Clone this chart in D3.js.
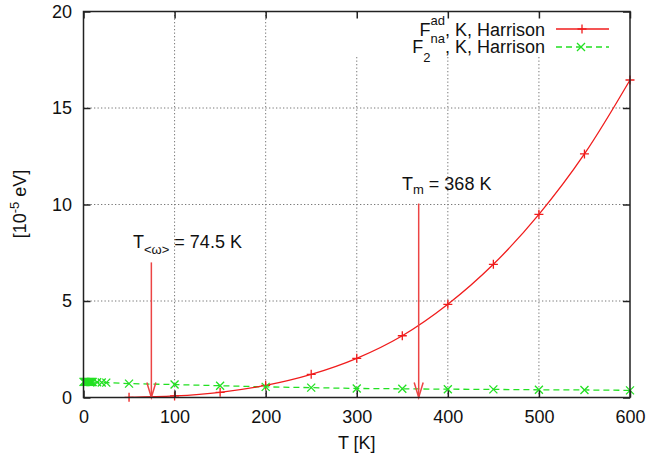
<!DOCTYPE html>
<html>
<head>
<meta charset="utf-8">
<script src="https://cdn.jsdelivr.net/npm/d3@7"></script>
<style>
  html, body { margin: 0; padding: 0; background: #fff; }
  svg { display: block; font-family: "Liberation Sans", Arial, Helvetica, sans-serif; }
</style>
</head>
<body>
<svg id="chart" width="647" height="459"></svg>
<script>
// ---- data ----
const redT = [50, 100, 150, 200, 250, 300, 350, 400, 450, 500, 550, 600];
const redF = [0.01, 0.08, 0.27, 0.63, 1.2, 2.03, 3.2, 4.83, 6.9, 9.49, 12.62, 16.45];
const greenT = [0, 1, 2, 3, 4, 5, 6, 7, 8, 9, 10, 15, 20, 25, 50, 100, 150, 200, 250, 300, 350, 400, 450, 500, 550, 600];
const greenF = [0.81, 0.81, 0.81, 0.81, 0.81, 0.81, 0.81, 0.80, 0.80, 0.80, 0.80, 0.79, 0.78, 0.77, 0.72, 0.67, 0.61, 0.55, 0.51, 0.47, 0.45, 0.43, 0.42, 0.40, 0.39, 0.37];
const xTicks = [0, 100, 200, 300, 400, 500, 600];
const yTicks = [0, 5, 10, 15, 20];
const xGrid = [100, 200, 300, 400, 500];
const yGrid = [5, 10, 15];
const arrowT = [74.5, 368];
const arrowTop = [7.0, 10.05];

// ---- layout ----
const svg = d3.select("#chart");
const x = d3.scaleLinear().domain([0, 600]).range([83.5, 630]);
const y = d3.scaleLinear().domain([0, 20]).range([397.5, 11.5]);
const FS = 18;
const red = "#f01c1c", green = "#22e022", arrowCol = "#ec4444";

// grid
const grid = svg.append("g").attr("stroke", "#777").attr("stroke-width", 1).attr("stroke-dasharray", "1.3,2.2");
grid.selectAll(".gx").data(xGrid).join("line")
  .attr("x1", d => x(d)).attr("x2", d => x(d)).attr("y1", y(20)).attr("y2", y(0));
grid.selectAll(".gy").data(yGrid).join("line")
  .attr("x1", x(0)).attr("x2", x(600)).attr("y1", d => y(d)).attr("y2", d => y(d));

// opaque key box
svg.append("rect").attr("x", 300).attr("y", 12.5).attr("width", 329).attr("height", 44).attr("fill", "#fff");

const plot = svg.append("g");

// green dashed line
plot.append("path")
  .datum(greenT.map((t, i) => [t, greenF[i]]))
  .attr("fill", "none").attr("stroke", green).attr("stroke-width", 1.3).attr("stroke-dasharray", "6,4")
  .attr("d", d3.line().x(d => x(d[0])).y(d => y(d[1])));

// red curve
plot.append("path")
  .datum(redT.map((t, i) => [t, redF[i]]))
  .attr("fill", "none").attr("stroke", red).attr("stroke-width", 1.3)
  .attr("d", d3.line().curve(d3.curveCatmullRom.alpha(0.5)).x(d => x(d[0])).y(d => y(d[1])));

// arrows
arrowT.forEach((t, i) => {
  const ax = x(t), y0 = y(arrowTop[i]), y1 = y(0);
  plot.append("line").attr("x1", ax).attr("x2", ax).attr("y1", y0).attr("y2", y1)
    .attr("stroke", arrowCol).attr("stroke-width", 1.5);
  plot.append("path").attr("d", `M${ax - 4.5},${y1 - 15}L${ax},${y1}L${ax + 4.5},${y1 - 15}`)
    .attr("fill", "none").attr("stroke", arrowCol).attr("stroke-width", 1.5);
});

// markers
const plusD = "M-4.5,0H4.5M0,-4.5V4.5";
const crossD = "M-4,-4L4,4M-4,4L4,-4";
plot.selectAll(".rm").data(redT.map((t, i) => [t, redF[i]])).join("path")
  .attr("transform", d => `translate(${x(d[0])},${y(d[1])})`)
  .attr("d", plusD).attr("stroke", red).attr("stroke-width", 1.3).attr("fill", "none");
plot.selectAll(".gm").data(greenT.map((t, i) => [t, greenF[i]])).join("path")
  .attr("transform", d => `translate(${x(d[0])},${y(d[1])})`)
  .attr("d", crossD).attr("stroke", green).attr("stroke-width", 1.3).attr("fill", "none");

// axes (ticks inward, mirrored)
function styleAxis(g) {
  g.select(".domain").remove();
  g.selectAll(".tick line").attr("stroke", "#222").attr("stroke-width", 1.5);
  g.selectAll(".tick text").attr("fill", "#111").style("font-size", FS + "px")
    .style("font-family", '"Liberation Sans", Arial, sans-serif');
}
svg.append("g").attr("transform", `translate(0,${y(0)})`)
  .call(d3.axisBottom(x).tickValues(xTicks).tickSize(-7).tickPadding(12.5).tickFormat(d3.format("d")))
  .call(styleAxis);
svg.append("g").attr("transform", `translate(0,${y(20)})`)
  .call(d3.axisTop(x).tickValues(xTicks).tickSize(-7).tickFormat(""))
  .call(styleAxis);
svg.append("g").attr("transform", `translate(${x(0)},0)`)
  .call(d3.axisLeft(y).tickValues(yTicks).tickSize(-7).tickPadding(11.5).tickFormat(d3.format("d")))
  .call(styleAxis);
svg.append("g").attr("transform", `translate(${x(600)},0)`)
  .call(d3.axisRight(y).tickValues(yTicks).tickSize(-7).tickFormat(""))
  .call(styleAxis);

// border
svg.append("rect").attr("x", x(0)).attr("y", y(20)).attr("width", x(600) - x(0)).attr("height", y(0) - y(20))
  .attr("fill", "none").attr("stroke", "#222").attr("stroke-width", 1.5);

// axis labels
svg.append("text").attr("x", (x(0) + x(600)) / 2).attr("y", 449).attr("text-anchor", "middle")
  .style("font-size", FS + "px").attr("fill", "#111").text("T [K]");

const yl = svg.append("text").attr("transform", "translate(25.5,204) rotate(-90)")
  .attr("text-anchor", "middle").style("font-size", FS + "px").attr("fill", "#111");
yl.append("tspan").text("[10");
yl.append("tspan").attr("dy", -7).style("font-size", "13px").text("-5");
yl.append("tspan").attr("dy", 7).text(" eV]");

// annotations
const a1 = svg.append("text").attr("x", 133).attr("y", 248).style("font-size", FS + "px").attr("fill", "#111");
a1.append("tspan").text("T");
a1.append("tspan").attr("dy", 6).style("font-size", "13px").text("<ω>");
a1.append("tspan").attr("dy", -6).text(" = 74.5 K");

const a2 = svg.append("text").attr("x", 402).attr("y", 189.5).style("font-size", FS + "px").attr("fill", "#111");
a2.append("tspan").text("T");
a2.append("tspan").attr("dy", 4.5).style("font-size", "13px").text("m");
a2.append("tspan").attr("dy", -4.5).text(" = 368 K");

// legend
const l1 = svg.append("text").attr("x", 545).attr("y", 36).attr("text-anchor", "end")
  .style("font-size", FS + "px").attr("fill", "#111");
l1.append("tspan").text("F");
l1.append("tspan").attr("dy", -11).style("font-size", "13px").text("ad");
l1.append("tspan").attr("dy", 11).text(", K, Harrison");

const l2 = svg.append("text").attr("x", 545).attr("y", 53).attr("text-anchor", "end")
  .style("font-size", FS + "px").attr("fill", "#111");
l2.append("tspan").text("F");
l2.append("tspan").attr("dy", 9).style("font-size", "13px").text("2");
l2.append("tspan").attr("dy", -19).style("font-size", "13px").text("na");
l2.append("tspan").attr("dy", 10).text(", K, Harrison");

svg.append("line").attr("x1", 556).attr("x2", 609).attr("y1", 29).attr("y2", 29)
  .attr("stroke", red).attr("stroke-width", 1.3);
svg.append("path").attr("transform", "translate(582,29)").attr("d", plusD)
  .attr("stroke", red).attr("stroke-width", 1.3);
svg.append("line").attr("x1", 556).attr("x2", 609).attr("y1", 47).attr("y2", 47)
  .attr("stroke", green).attr("stroke-width", 1.3).attr("stroke-dasharray", "6,4");
svg.append("path").attr("transform", "translate(581,47)").attr("d", crossD)
  .attr("stroke", green).attr("stroke-width", 1.3);
</script>
</body>
</html>
